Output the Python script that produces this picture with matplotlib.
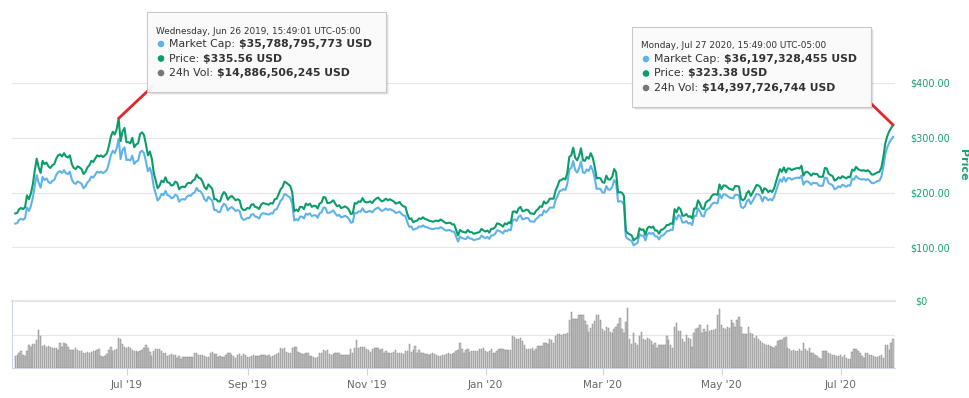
import numpy as np
import pandas as pd
import matplotlib
matplotlib.use("Agg")
import matplotlib.pyplot as plt
import matplotlib.dates as mdates
from matplotlib.patches import Rectangle, Circle, ConnectionPatch

# daily snapshots (15:49 UTC-05:00), price in USD
price_may19 = [162, 163, 170, 172, 170, 173, 195, 188, 198, 215, 240, 262, 246, 236, 258, 252, 255, 248, 245, 250,
               252, 262, 268, 270, 266, 272, 266, 264]
price_jun19 = [268, 252, 245, 243, 248, 246, 243, 234, 238, 246, 250, 258, 256, 262, 268, 266, 268, 265, 268, 272,
               285, 302, 311, 306, 316, 335.56, 294, 312, 318, 292]
price_jul19 = [292, 290, 300, 283, 288, 290, 307, 310, 305, 288, 268, 275, 262, 236, 222, 208, 213, 222, 219, 228,
               219, 218, 213, 214, 220, 218, 206, 210, 211, 210, 216]
price_aug19 = [218, 217, 222, 224, 233, 227, 226, 220, 210, 206, 215, 211, 207, 188, 188, 184, 184, 195, 201, 197,
               187, 192, 194, 190, 186, 188, 186, 172, 168, 169, 172]
price_sep19 = [171, 178, 179, 174, 173, 170, 178, 181, 180, 179, 178, 181, 180, 188, 189, 197, 206, 210, 220, 218,
               215, 212, 200, 166, 169, 166, 174, 174, 170, 180]
price_oct19 = [177, 180, 174, 176, 176, 171, 180, 182, 192, 191, 181, 181, 183, 186, 180, 175, 177, 172, 173, 175,
               173, 169, 161, 162, 181, 180, 184, 183, 190, 184, 182]
price_nov19 = [183, 184, 181, 186, 189, 191, 187, 184, 186, 189, 186, 188, 186, 184, 180, 181, 183, 178, 175, 174,
               161, 152, 153, 146, 148, 149, 153, 152, 155, 152]
price_dec19 = [151, 149, 148, 147, 148, 149, 148, 151, 149, 146, 144, 145, 145, 142, 142, 132, 122, 132, 129, 128,
               127, 132, 128, 128, 125, 126, 127, 128, 134, 131, 129]
price_jan20 = [131, 127, 134, 134, 137, 144, 143, 141, 138, 144, 142, 146, 144, 165, 166, 163, 171, 174, 166, 167,
               169, 168, 162, 162, 161, 167, 170, 175, 174, 184, 180]
price_feb20 = [183, 189, 189, 189, 204, 212, 222, 223, 226, 224, 236, 265, 268, 282, 264, 259, 267, 281, 259, 258,
               265, 262, 272, 264, 248, 226, 227, 226, 219]
price_mar20 = [218, 231, 224, 224, 229, 243, 237, 200, 201, 200, 194, 130, 126, 124, 122, 113, 116, 118, 135, 132,
               133, 123, 135, 138, 136, 138, 131, 131, 125, 132, 133]
price_apr20 = [136, 141, 141, 144, 143, 170, 164, 173, 170, 158, 158, 161, 156, 157, 153, 171, 171, 186, 180, 171,
               170, 182, 185, 187, 194, 197, 197, 196, 215, 206]
price_may20 = [213, 213, 210, 207, 206, 205, 212, 212, 211, 189, 186, 189, 199, 203, 194, 200, 207, 214, 213, 210,
               199, 208, 206, 201, 204, 201, 208, 220, 232, 243, 238]
price_jun20 = [246, 237, 244, 244, 241, 243, 244, 245, 244, 249, 231, 237, 238, 235, 231, 235, 234, 234, 229, 229,
               229, 245, 244, 234, 232, 230, 222, 224, 228, 226]
price_jul20 = [230, 228, 226, 229, 228, 242, 240, 247, 243, 241, 240, 241, 239, 241, 238, 233, 233, 235, 237, 238,
               246, 265, 290, 303, 312, 318, 323.38]

# 24h volume, billions USD
vol_may19 = [5.8, 6.1, 7.1, 8.3, 6.1, 5.8, 8.3, 11.1, 10.4, 11.6, 11.6, 13.7, 18.5, 15.7, 10.9, 11.1, 10.4, 10.7,
             10.4, 9.9, 9.9, 9.9, 8.8, 12.1, 10.4, 12.1, 11.6, 10.4]
vol_jun19 = [8.8, 8.8, 8.8, 9.9, 8.8, 8.3, 8.3, 7.1, 7.1, 7.8, 7.1, 7.8, 8.3, 8.3, 8.8, 9.4, 5.8, 5.5, 5.8, 6.6,
             8.8, 10.4, 8.3, 8.6, 9.1, 14.89, 14.1, 11.6, 10.4, 9.9]
vol_jul19 = [10.4, 9.9, 8.8, 8.3, 8.3, 7.8, 8.3, 8.8, 9.9, 11.1, 9.9, 7.8, 5.8, 8.3, 9.4, 9.4, 9.4, 8.3, 7.4, 7.1,
             5.8, 6.1, 6.6, 6.1, 6.1, 5.0, 5.8, 4.1, 5.5, 5.5, 5.5]
vol_aug19 = [5.5, 5.5, 5.5, 7.1, 7.1, 6.1, 6.3, 6.1, 5.8, 5.5, 5.5, 7.1, 7.8, 6.6, 6.6, 5.5, 5.8, 5.5, 5.5, 6.1,
             7.1, 7.1, 6.1, 5.8, 5.0, 6.1, 6.6, 5.8, 6.6, 6.1, 5.5]
vol_sep19 = [5.5, 5.8, 6.1, 5.8, 5.8, 5.8, 6.1, 6.1, 6.1, 5.8, 6.1, 5.5, 5.8, 6.1, 6.6, 7.4, 9.9, 9.4, 9.9, 7.8,
             7.4, 7.1, 9.9, 10.4, 10.4, 7.8, 7.1, 6.6, 6.6, 7.1]
vol_oct19 = [7.1, 5.8, 5.8, 5.5, 5.0, 5.5, 7.1, 7.4, 8.8, 8.3, 8.8, 6.6, 6.1, 6.6, 7.1, 7.1, 7.1, 6.1, 6.1, 6.1,
             6.1, 6.1, 9.1, 7.4, 9.9, 13.7, 9.9, 10.4, 10.4, 10.4, 9.1]
vol_nov19 = [8.8, 7.8, 9.1, 9.9, 9.9, 9.9, 8.8, 9.1, 7.1, 8.3, 7.4, 7.4, 7.1, 7.8, 8.8, 7.1, 7.1, 7.1, 6.6, 8.3,
             8.3, 11.6, 7.8, 8.8, 10.7, 7.4, 8.8, 7.1, 7.1, 6.6]
vol_dec19 = [6.6, 6.1, 6.6, 7.1, 6.6, 6.1, 5.8, 5.8, 6.1, 6.1, 6.6, 7.1, 6.6, 6.6, 7.1, 8.3, 8.8, 12.4, 9.4, 7.4,
             8.8, 9.4, 7.8, 8.3, 8.3, 8.3, 8.3, 9.1, 9.1, 9.9, 8.3]
vol_jan20 = [7.8, 8.3, 9.4, 7.4, 7.1, 8.3, 9.1, 9.1, 9.1, 8.8, 8.8, 8.8, 8.8, 15.7, 15.4, 14.4, 14.4, 14.9, 13.2,
             11.1, 9.1, 9.4, 9.1, 9.9, 8.3, 9.4, 10.7, 10.7, 10.7, 12.4, 12.1]
vol_feb20 = [11.6, 14.4, 13.7, 12.4, 15.7, 16.5, 16.5, 16.0, 16.5, 16.5, 17.0, 23.6, 27.6, 24.0, 24.0, 24.3, 26.0,
             26.4, 26.4, 23.1, 21.0, 17.7, 19.8, 21.5, 23.1, 26.4, 26.0, 23.6, 19.0]
vol_mar20 = [18.2, 20.3, 19.8, 17.7, 17.4, 19.3, 20.3, 21.5, 24.8, 19.0, 17.0, 22.6, 29.8, 14.1, 11.6, 17.4, 12.4,
             11.1, 15.7, 17.7, 14.4, 13.7, 14.9, 14.4, 13.2, 11.1, 12.4, 9.9, 11.1, 11.1, 11.1]
vol_apr20 = [11.1, 15.7, 13.7, 11.1, 9.9, 20.3, 22.3, 18.2, 18.2, 14.1, 12.7, 16.0, 14.9, 14.1, 10.4, 17.0, 19.3,
             19.8, 21.0, 17.4, 19.0, 17.7, 21.0, 18.2, 18.7, 18.7, 19.0, 26.4, 28.9, 21.0]
vol_may20 = [19.8, 19.0, 20.3, 19.8, 23.6, 22.3, 20.3, 23.6, 25.3, 20.3, 16.5, 16.5, 16.5, 20.3, 17.4, 16.5, 14.9,
             15.7, 14.1, 13.2, 12.4, 11.6, 11.1, 11.1, 10.7, 10.4, 9.9, 10.7, 13.2, 13.7, 13.6]
vol_jun20 = [14.9, 15.4, 9.9, 9.4, 8.3, 8.8, 8.3, 8.3, 9.1, 8.3, 12.1, 9.1, 8.3, 9.9, 7.4, 7.1, 6.1, 5.8, 5.0, 4.5,
             8.3, 8.3, 8.3, 7.1, 6.6, 6.1, 6.1, 5.8, 5.8, 6.1]
vol_jul20 = [5.5, 6.1, 5.0, 4.5, 4.5, 7.8, 9.1, 9.4, 8.3, 7.1, 5.8, 5.0, 7.4, 7.1, 6.1, 6.1, 5.8, 5.5, 5.5, 5.8,
             6.1, 5.0, 11.1, 11.1, 8.8, 12.1, 14.40]

# circulating supply per month (millions ETH), market cap = price * supply
supply_m = [106.3, 106.65, 107.0, 107.4, 107.8, 108.2, 108.6, 108.9, 109.3, 109.7, 110.1, 110.5, 110.9, 111.4, 111.93]

price_months = [price_may19, price_jun19, price_jul19, price_aug19, price_sep19, price_oct19, price_nov19,
                price_dec19, price_jan20, price_feb20, price_mar20, price_apr20, price_may20, price_jun20, price_jul20]
vol_months = [vol_may19, vol_jun19, vol_jul19, vol_aug19, vol_sep19, vol_oct19, vol_nov19, vol_dec19,
              vol_jan20, vol_feb20, vol_mar20, vol_apr20, vol_may20, vol_jun20, vol_jul20]

price = np.concatenate(price_months)
volume = np.concatenate(vol_months) * 1e9
mcap = np.concatenate([np.array(p) * s * 1e6 for p, s in zip(price_months, supply_m)])
dates = pd.date_range("2019-05-04 20:49", periods=len(price), freq="D")

tip1_header = "Wednesday, Jun 26 2019, 15:49:01 UTC-05:00"
tip1_rows = ["$35,788,795,773 USD", "$335.56 USD", "$14,886,506,245 USD"]
tip2_header = "Monday, Jul 27 2020, 15:49:00 UTC-05:00"
tip2_rows = ["$36,197,328,455 USD", "$323.38 USD", "$14,397,726,744 USD"]
row_labels = ["Market Cap: ", "Price: ", "24h Vol: "]

green = "#0b9c6b"
blue = "#5fb3e8"
gray_dot = "#777777"
label_green = "#1aa271"
grid_c = "#e6e6e6"

W, H = 969, 398
fig = plt.figure(figsize=(W / 100, H / 100), dpi=100)


def box(l, t, r, b):
    return [l / W, 1 - b / H, (r - l) / W, (b - t) / H]


x0 = pd.Timestamp("2019-07-01") - pd.Timedelta(days=(126.7 - 12) / 1.9508)
x1 = pd.Timestamp("2020-07-01") + pd.Timedelta(days=(895 - 840.7) / 1.9508)
p_lo, p_hi = 22.4, 400
k = 1.2e8  # market cap axis units per price dollar

# market cap (hidden axis) carries the grid
axm = fig.add_axes(box(12, 83, 895, 290))
axm.set_xlim(x0, x1)
axm.set_ylim(p_lo * k, p_hi * k)
axm.set_yticks([v * k for v in [100, 200, 300, 400]])
axm.grid(axis="y", color=grid_c, lw=0.8)
for s in axm.spines.values():
    s.set_visible(False)
axm.plot(dates, mcap, color=blue, lw=1.5)

ax = axm.twinx()
axm.tick_params(left=False, labelleft=False, bottom=False, labelbottom=False)
ax.set_ylim(p_lo, p_hi)
ax.plot(dates, price, color=green, lw=1.5)
ax.set_yticks([100, 200, 300, 400])
ax.set_yticklabels(["$100.00", "$200.00", "$300.00", "$400.00"])
ax.tick_params(axis="y", length=0, pad=10.8, labelcolor=label_green, labelsize=7)
for s in ax.spines.values():
    s.set_visible(False)

# volume panel
axv = fig.add_axes(box(12, 301, 895, 367.7))
axv.bar(dates, volume, width=0.7, color="#c6c6c6", edgecolor="#7c7c7c", lw=0.3)
axv.set_xlim(x0, x1)
axv.set_ylim(0, 33.1e9)
axv.axhline(16.1e9, color=grid_c, lw=0.8, zorder=0)
axv.axhline(33.1e9, color=grid_c, lw=1.6, zorder=0, clip_on=False)
axv.set_yticks([])
ticks = pd.date_range("2019-07-01", "2020-07-01", freq="2MS")
axv.set_xticks(ticks)
axv.set_xticklabels([d.strftime("%b '%y") for d in ticks])
axv.tick_params(axis="x", length=5, color="#ccd6eb", labelsize=7.5, labelcolor="#666666", pad=4)
for name, s in axv.spines.items():
    if name in ("left", "bottom"):
        s.set_color("#ccd6eb")
        s.set_linewidth(0.8)
    else:
        s.set_visible(False)

fig.text(915 / W, 1 - 301 / H, "$0", color=label_green, fontsize=7, va="center")
fig.text(963 / W, 1 - 165 / H, "Price", color=label_green, fontsize=8, fontweight="bold",
         rotation=270, ha="center", va="center")

# tooltips overlay in pixel coordinates
ov = fig.add_axes([0, 0, 1, 1], zorder=10)
ov.set_xlim(0, W)
ov.set_ylim(H, 0)
ov.axis("off")


def tooltip(l, t, r, b, header, values):
    for off, a in [(3, 0.05), (2, 0.08), (1, 0.12)]:
        ov.add_patch(Rectangle((l + off, t + off), r - l, b - t, fc=(0, 0, 0, a), ec="none"))
    ov.add_patch(Rectangle((l, t), r - l, b - t, fc=(1, 1, 1, 0.93), ec="#c8c8c8", lw=0.8))
    ov.text(l + 9.5, t + 19, header, fontsize=6.4, color="#333333", va="center")
    for i, (col, lab, val) in enumerate(zip([blue, green, gray_dot], row_labels, values)):
        y = t + 32 + 14.5 * i
        ov.add_patch(Circle((l + 14, y), 2.6, color=col))
        txt = ov.text(l + 22.5, y, lab, fontsize=7.8, color="#333333", va="center")
        ov.annotate(val, xy=(1, 0.5), xycoords=txt, va="center", ha="left", fontsize=7.8,
                    fontweight="bold", color="#333333")


tooltip(147, 12, 386, 92, tip1_header, tip1_rows)
tooltip(632, 27, 871, 107, tip2_header, tip2_rows)

i_peak = int(np.argmax(price))
for i, anchor in [(i_peak, (153, 86)), (len(price) - 1, (870.7, 103.3))]:
    con = ConnectionPatch(xyA=(mdates.date2num(dates[i]), price[i]), coordsA=ax.transData,
                          xyB=anchor, coordsB=ov.transData, color="#e8242b", lw=2)
    fig.add_artist(con)

fig.savefig("out.png", dpi=100)
